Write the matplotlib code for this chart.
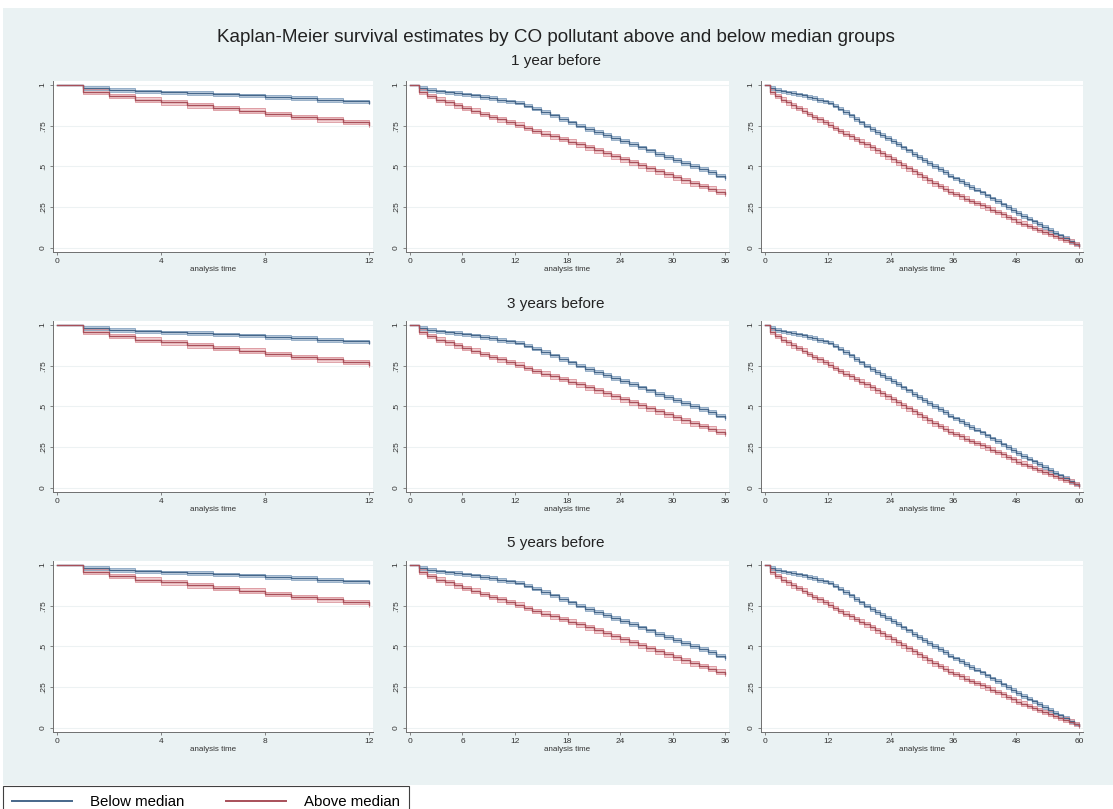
import matplotlib.pyplot as plt
import numpy as np
from matplotlib.lines import Line2D
from matplotlib.patches import Rectangle

plt.rcParams["font.family"] = ["Liberation Sans", "DejaVu Sans"]

# Kaplan-Meier estimates at months 0..60 for the two CO exposure groups
months = list(range(61))
surv_below = [
    1.000, 0.983, 0.971, 0.961, 0.955, 0.950, 0.943, 0.936, 0.927, 0.919,
    0.909, 0.900, 0.892, 0.874, 0.855, 0.834, 0.813, 0.792, 0.770, 0.751,
    0.731, 0.712, 0.693, 0.674, 0.655, 0.637, 0.617, 0.598, 0.578, 0.558,
    0.539, 0.520, 0.502, 0.484, 0.464, 0.444, 0.426, 0.409, 0.391, 0.374,
    0.357, 0.340, 0.322, 0.304, 0.286, 0.267, 0.249, 0.231, 0.212, 0.196,
    0.179, 0.162, 0.145, 0.127, 0.110, 0.093, 0.076, 0.059, 0.042, 0.025,
    0.008,
]
surv_above = [
    1.000, 0.959, 0.932, 0.911, 0.893, 0.876, 0.858, 0.842, 0.822, 0.805,
    0.789, 0.773, 0.756, 0.736, 0.717, 0.701, 0.684, 0.668, 0.652, 0.635,
    0.617, 0.598, 0.580, 0.561, 0.543, 0.525, 0.506, 0.488, 0.469, 0.451,
    0.432, 0.414, 0.396, 0.379, 0.363, 0.345, 0.330, 0.316, 0.302, 0.288,
    0.274, 0.260, 0.248, 0.234, 0.220, 0.205, 0.190, 0.175, 0.161, 0.148,
    0.135, 0.122, 0.110, 0.098, 0.087, 0.075, 0.062, 0.050, 0.037, 0.024,
    0.010,
]
# half width of the 95% confidence band
ci_below = 0.011
ci_above = 0.014

group_labels = ["Below median", "Above median"]
row_titles = ["1 year before", "3 years before", "5 years before"]
row_title_y = [61, 304, 543]
followup = [12, 36, 60]
xticks = [[0, 4, 8, 12], [0, 6, 12, 18, 24, 30, 36], [0, 12, 24, 36, 48, 60]]
yticks = [0, 0.25, 0.5, 0.75, 1]
ytick_labels = ["0", ".25", ".5", ".75", "1"]

title = "Kaplan-Meier survival estimates by CO pollutant above and below median groups"

W, H = 1113, 809
fig = plt.figure(figsize=(W / 100, H / 100), dpi=100)


def px_box(x0, y0, x1, y1):
    # pixel box (top-left origin) -> figure fraction rect
    return [x0 / W, 1 - y1 / H, (x1 - x0) / W, (y1 - y0) / H]


bg = "#eaf2f3"
fig.add_artist(Rectangle((3 / W, 1 - 785 / H), 1, (785 - 8) / H,
                         transform=fig.transFigure, facecolor=bg,
                         edgecolor="none", zorder=-10))

styles = [
    dict(line="#46678a", edge="#8aa6c2", fill="#c4d5e5"),
    dict(line="#a84f59", edge="#db959c", fill="#f1c6ca"),
]
series = [(surv_below, ci_below), (surv_above, ci_above)]

col_x = [(53, 373), (406, 729), (761, 1083)]
row_top = [81, 321, 561]
axis_grey = "#6f6f6f"

for r in range(3):
    fig.text(556 / W, 1 - row_title_y[r] / H, row_titles[r], ha="center",
             va="center", fontsize=11, color="#222222")
    for c in range(3):
        x0, x1 = col_x[c]
        ax = fig.add_axes(px_box(x0, row_top[r], x1, row_top[r] + 171))
        ax.set_facecolor("white")
        T = followup[c]
        t = np.array(months[:T + 1])
        for (surv, hw), st in zip(series, styles):
            s = np.array(surv[:T + 1])
            lo = np.clip(s - hw, 0, 1)
            hi = np.clip(s + hw, 0, 1)
            lo[0] = hi[0] = 1.0
            ax.fill_between(t, lo, hi, step="post", color=st["fill"], lw=0,
                            alpha=0.8, zorder=2)
            ax.step(t, lo, where="post", color=st["edge"], lw=0.6, zorder=3)
            ax.step(t, hi, where="post", color=st["edge"], lw=0.6, zorder=3)
        for (surv, hw), st in zip(series, styles):
            ax.step(t, surv[:T + 1], where="post", color=st["line"], lw=1.0,
                    zorder=4)

        ax.set_xlim(-0.0125 * T, 1.0125 * T)
        ax.set_ylim(-0.026, 1.025)
        ax.set_xticks(xticks[c])
        ax.set_yticks(yticks)
        ax.set_yticklabels(ytick_labels, rotation=90, va="center")
        ax.tick_params(labelsize=6, length=2.5, width=0.6, color=axis_grey,
                       labelcolor="#333333", pad=2)
        ax.set_xlabel("analysis time", fontsize=5.8, color="#333333",
                      labelpad=0.3)
        ax.yaxis.grid(True, color="#edf2f3", lw=0.8)
        ax.set_axisbelow(True)
        for side in ["top", "right"]:
            ax.spines[side].set_visible(False)
        for side in ["left", "bottom"]:
            ax.spines[side].set_color(axis_grey)
            ax.spines[side].set_linewidth(0.7)

fig.text(556 / W, 1 - 37 / H, title, ha="center", va="center",
         fontsize=13.6, color="#222222")

handles = [Line2D([], [], color=st["line"], lw=1.4) for st in styles]
leg = fig.legend(handles, group_labels, loc="upper left",
                 bbox_to_anchor=(3 / W, 1 - 786 / H), ncol=2, frameon=True,
                 fancybox=False, edgecolor="#404040", facecolor="white",
                 framealpha=1, fontsize=10.8, handlelength=4.0,
                 handletextpad=1.2, columnspacing=2.8, borderpad=0.6,
                 borderaxespad=0)
leg.get_frame().set_linewidth(0.8)

fig.savefig("out.png", dpi=100, facecolor="white")
